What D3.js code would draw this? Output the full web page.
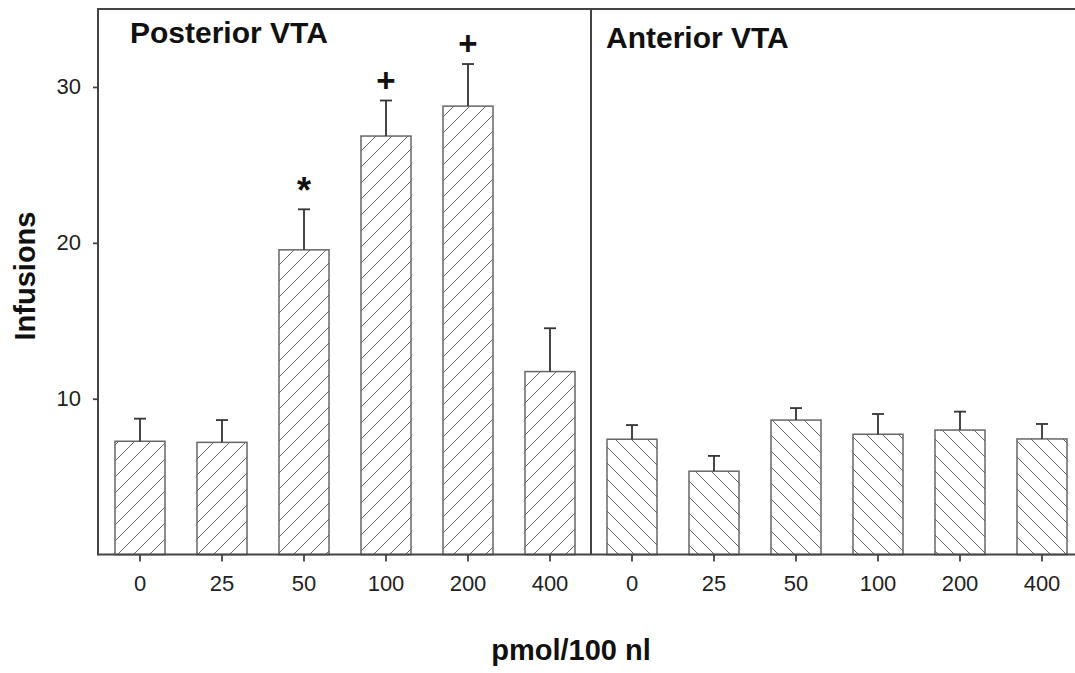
<!DOCTYPE html>
<html>
<head>
<meta charset="utf-8">
<script src="https://cdn.jsdelivr.net/npm/d3@7"></script>
<style>
  body { margin: 0; background: #fff; }
  svg { display: block; font-family: "Liberation Sans", Arial, sans-serif; }
</style>
</head>
<body>
<svg width="1075" height="673"></svg>
<script>
var doses = ['0', '25', '50', '100', '200', '400'];

var posteriorMean = [7.27, 7.2, 19.55, 26.85, 28.77, 11.74];
var posteriorErr  = [1.45, 1.43, 2.6, 2.28, 2.7, 2.78];
var posteriorMark = ['', '', '*', '+', '+', ''];

var anteriorMean = [7.4, 5.35, 8.63, 7.72, 7.99, 7.42];
var anteriorErr  = [0.91, 0.98, 0.77, 1.3, 1.18, 0.96];

var yTicks = [10, 20, 30];

var rows = [];
doses.forEach(function(d, i) {
  rows.push({ key: 'p' + d, dose: d, mean: posteriorMean[i], err: posteriorErr[i], mark: posteriorMark[i], side: 'post' });
});
doses.forEach(function(d, i) {
  rows.push({ key: 'a' + d, dose: d, mean: anteriorMean[i], err: anteriorErr[i], mark: '', side: 'ant' });
});

var svg = d3.select('svg');

var x = d3.scaleBand()
    .domain(rows.map(function(d) { return d.key; }))
    .range([99, 1083])
    .paddingInner(0.39)
    .paddingOuter(0.195);

var y = d3.scaleLinear()
    .domain([0, 35])
    .range([554.6, 9]);

// hatch patterns
var defs = svg.append('defs');
var s = 16;
defs.append('pattern')
    .attr('id', 'hatch-post')
    .attr('patternUnits', 'userSpaceOnUse')
    .attr('width', s).attr('height', s)
  .append('path')
    .attr('d', 'M0,' + s + ' L' + s + ',0 M-4,4 L4,-4 M' + (s - 4) + ',' + (s + 4) + ' L' + (s + 4) + ',' + (s - 4))
    .attr('stroke', '#666').attr('stroke-width', 1);

defs.append('pattern')
    .attr('id', 'hatch-ant')
    .attr('patternUnits', 'userSpaceOnUse')
    .attr('width', s).attr('height', s)
  .append('path')
    .attr('d', 'M0,0 L' + s + ',' + s + ' M-4,' + (s - 4) + ' L4,' + (s + 4) + ' M' + (s - 4) + ',-4 L' + (s + 4) + ',4')
    .attr('stroke', '#666').attr('stroke-width', 1);

// bars
svg.selectAll('rect.bar')
    .data(rows)
    .enter()
    .append('rect')
    .attr('class', 'bar')
    .attr('x', function(d) { return x(d.key); })
    .attr('y', function(d) { return y(d.mean); })
    .attr('width', x.bandwidth())
    .attr('height', function(d) { return y(0) - y(d.mean); })
    .attr('fill', function(d) { return d.side === 'post' ? 'url(#hatch-post)' : 'url(#hatch-ant)'; })
    .attr('stroke', '#666')
    .attr('stroke-width', 1.5);

// error bars
var cx = function(d) { return x(d.key) + x.bandwidth() / 2; };

svg.selectAll('line.err')
    .data(rows)
    .enter()
    .append('line')
    .attr('x1', cx).attr('x2', cx)
    .attr('y1', function(d) { return y(d.mean); })
    .attr('y2', function(d) { return y(d.mean + d.err); })
    .attr('stroke', '#333').attr('stroke-width', 1.8);

svg.selectAll('line.cap')
    .data(rows)
    .enter()
    .append('line')
    .attr('x1', function(d) { return cx(d) - 6; })
    .attr('x2', function(d) { return cx(d) + 6; })
    .attr('y1', function(d) { return y(d.mean + d.err); })
    .attr('y2', function(d) { return y(d.mean + d.err); })
    .attr('stroke', '#333').attr('stroke-width', 1.8);

// significance marks
svg.selectAll('text.mark')
    .data(rows.filter(function(d) { return d.mark; }))
    .enter()
    .append('text')
    .attr('x', cx)
    .attr('y', function(d) { return y(d.mean + d.err) - (d.mark === '*' ? 6 : 9); })
    .attr('text-anchor', 'middle')
    .attr('font-weight', 'bold')
    .attr('font-size', function(d) { return d.mark === '*' ? 36 : 33; })
    .attr('fill', '#111')
    .text(function(d) { return d.mark; });

// axes
var yAxis = svg.append('g')
    .attr('transform', 'translate(98,0)')
    .call(d3.axisLeft(y).tickValues(yTicks).tickSize(5).tickPadding(12));

var xAxis = svg.append('g')
    .attr('transform', 'translate(0,' + y(0) + ')')
    .call(d3.axisBottom(x).tickSize(7).tickPadding(14)
      .tickFormat(function(k) { return k.slice(1); }));

[yAxis, xAxis].forEach(function(g) {
  g.select('.domain').remove();
  g.selectAll('.tick line').attr('stroke', '#444').attr('stroke-width', 1.8);
  g.selectAll('.tick text')
      .attr('font-size', 22)
      .attr('font-family', '"Liberation Sans", Arial, sans-serif')
      .attr('fill', '#222');
});

var frame = '#444';
svg.append('line')
    .attr('x1', 98).attr('x2', 1075).attr('y1', y(0)).attr('y2', y(0))
    .attr('stroke', frame).attr('stroke-width', 2);
svg.append('line')
    .attr('x1', 98).attr('x2', 1075).attr('y1', 9).attr('y2', 9)
    .attr('stroke', frame).attr('stroke-width', 2);
svg.append('line')
    .attr('x1', 98).attr('x2', 98).attr('y1', 8).attr('y2', y(0) + 1)
    .attr('stroke', frame).attr('stroke-width', 2);

// divider between the two panels
var divX = x('a0') - x.step() * x.paddingInner() / 2;
svg.append('line')
    .attr('x1', divX).attr('x2', divX).attr('y1', 9).attr('y2', y(0))
    .attr('stroke', frame).attr('stroke-width', 2);

// panel titles
svg.append('text')
    .attr('x', 130).attr('y', 43)
    .attr('font-size', 30).attr('font-weight', 'bold').attr('fill', '#111')
    .text('Posterior VTA');

svg.append('text')
    .attr('x', 606).attr('y', 48)
    .attr('font-size', 30).attr('font-weight', 'bold').attr('fill', '#111')
    .text('Anterior VTA');

// axis titles
svg.append('text')
    .attr('transform', 'translate(35,276) rotate(-90)')
    .attr('text-anchor', 'middle')
    .attr('font-size', 29).attr('font-weight', 'bold').attr('fill', '#111')
    .text('Infusions');

svg.append('text')
    .attr('x', 571).attr('y', 660)
    .attr('text-anchor', 'middle')
    .attr('font-size', 29).attr('font-weight', 'bold').attr('fill', '#111')
    .text('pmol/100 nl');
</script>
</body>
</html>
